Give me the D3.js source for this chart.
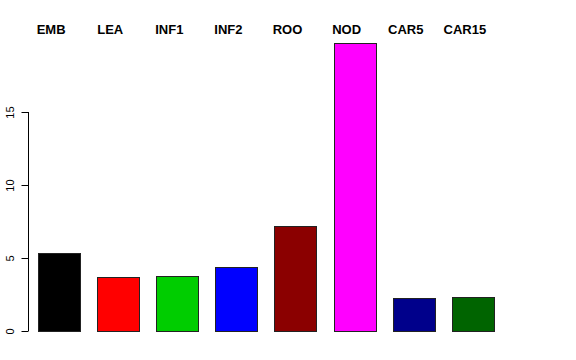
<!DOCTYPE html>
<html><head><meta charset="utf-8">
<script src="https://cdn.jsdelivr.net/npm/d3@7"></script>
<style>body{margin:0;background:#fff}svg{display:block}</style>
</head><body>
<script>
const categories = ["EMB","LEA","INF1","INF2","ROO","NOD","CAR5","CAR15"];
const values = [5.35, 3.70, 3.77, 4.38, 7.21, 19.73, 2.26, 2.33];
const colors = ["#000000","#FF0000","#00CD00","#0000FF","#8B0000","#FF00FF","#00008B","#006400"];
const yTicks = [0,5,10,15];

const W=576,H=360;
const svg=d3.select("body").append("svg").attr("width",W).attr("height",H);
const x=d3.scaleBand().domain(categories).range([29.55,502.45]).paddingInner(0.286).paddingOuter(0.143);
const y=d3.scaleLinear().domain([0,15]).range([331,112]);

svg.selectAll("rect.bar").data(categories).enter().append("rect")
  .attr("class","bar")
  .attr("x",d=>Math.round(x(d))+0.5)
  .attr("width",Math.round(x.bandwidth()))
  .attr("y",(d,i)=>Math.round(y(values[i]))+0.5)
  .attr("height",(d,i)=>Math.round(y(0))-Math.round(y(values[i])))
  .attr("fill",(d,i)=>colors[i])
  .attr("stroke","#222").attr("stroke-width",1);

svg.selectAll("text.lab").data(categories).enter().append("text")
  .attr("class","lab")
  .attr("x",d=>x(d)+x.bandwidth()/2-8)
  .attr("y",34)
  .attr("text-anchor","middle")
  .attr("font-family","Liberation Sans, Arial, sans-serif")
  .attr("font-weight","bold")
  .attr("font-size",13)
  .text(d=>d);

const ax=svg.append("g").attr("transform","translate(28.5,0)")
  .call(d3.axisLeft(y).tickValues(yTicks).tickSize(7).tickPadding(8).tickFormat(d3.format("d")));
ax.select(".domain").attr("stroke","#000").attr("d",`M-7,${y(15)}H0V${y(0)}H-7`).attr("d",`M0,${y(15)}V${y(0)}`);
ax.selectAll(".tick line").attr("stroke","#000");
ax.selectAll(".tick text")
  .attr("font-family","Liberation Sans, Arial, sans-serif")
  .attr("font-size",11).attr("fill","#000")
  .attr("transform","rotate(-90)")
  .attr("x",0).attr("y",-15)
  .attr("dy","0")
  .attr("text-anchor","middle");
</script>
</body></html>
